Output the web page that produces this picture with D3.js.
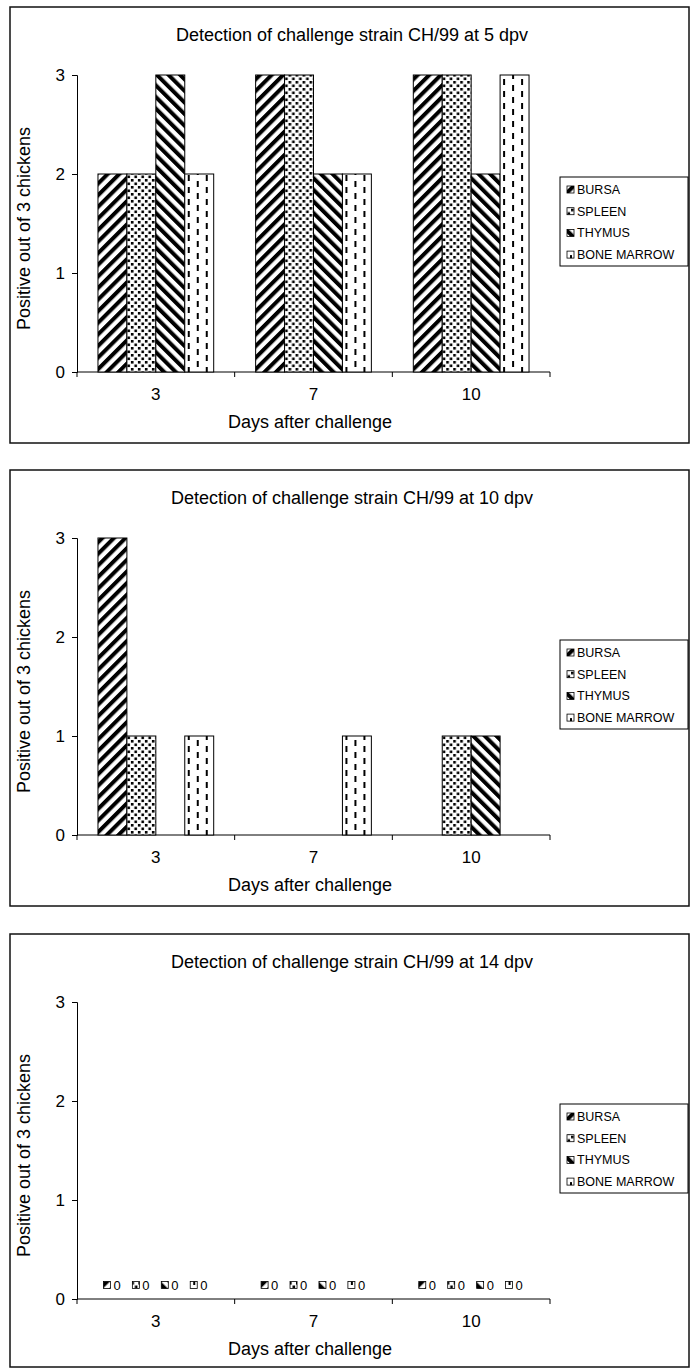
<!DOCTYPE html>
<html>
<head>
<meta charset="utf-8">
<script src="https://cdn.jsdelivr.net/npm/d3@7"></script>
<style>
  body { margin: 0; background: #fff; }
  svg { display: block; font-family: "Liberation Sans", Arial, sans-serif; }
</style>
</head>
<body>
<script>
// chart data
const days = ["3", "7", "10"];
const organs = ["BURSA", "SPLEEN", "THYMUS", "BONE MARROW"];
const titles = [
  "Detection of challenge strain CH/99 at 5 dpv",
  "Detection of challenge strain CH/99 at 10 dpv",
  "Detection of challenge strain CH/99 at 14 dpv"
];
const yTicks = [0, 1, 2, 3];

// positives per organ, one value per day
const dpv5 = {
  "BURSA": [2, 3, 3],
  "SPLEEN": [2, 3, 3],
  "THYMUS": [3, 2, 2],
  "BONE MARROW": [2, 2, 3]
};
const dpv10 = {
  "BURSA": [3, 0, 0],
  "SPLEEN": [1, 0, 1],
  "THYMUS": [0, 0, 1],
  "BONE MARROW": [1, 1, 0]
};
const dpv14 = {
  "BURSA": [0, 0, 0],
  "SPLEEN": [0, 0, 0],
  "THYMUS": [0, 0, 0],
  "BONE MARROW": [0, 0, 0]
};
const panels = [
  {title: titles[0], data: dpv5, labels: false},
  {title: titles[1], data: dpv10, labels: false},
  {title: titles[2], data: dpv14, labels: true}
];

const W = 693, H = 1368;
const panelTops = [7, 470, 934];
const panelH = 436;
const plot = {left: 77, right: 550, top: 68, bottom: 365};

const svg = d3.select("body").append("svg")
    .attr("width", W)
    .attr("height", H);

// fill patterns
const defs = svg.append("defs");

function stripes(id, angle) {
  const p = defs.append("pattern")
      .attr("id", id)
      .attr("patternUnits", "userSpaceOnUse")
      .attr("width", 8.2).attr("height", 10)
      .attr("patternTransform", "rotate(" + angle + ")");
  p.append("rect").attr("width", 8.2).attr("height", 10).attr("fill", "#fff");
  p.append("rect").attr("width", 4).attr("height", 10).attr("fill", "#000");
}
stripes("pat-bursa", 45);
stripes("pat-thymus", -45);

const dots = defs.append("pattern")
    .attr("id", "pat-spleen")
    .attr("patternUnits", "userSpaceOnUse")
    .attr("width", 7).attr("height", 7);
dots.append("rect").attr("width", 7).attr("height", 7).attr("fill", "#fff");
dots.append("rect").attr("x", 0.5).attr("y", 0.5).attr("width", 2.6).attr("height", 2.6).attr("fill", "#000");
dots.append("rect").attr("x", 4).attr("y", 4).attr("width", 2.6).attr("height", 2.6).attr("fill", "#000");

const dash = defs.append("pattern")
    .attr("id", "pat-marrow")
    .attr("patternUnits", "userSpaceOnUse")
    .attr("width", 18).attr("height", 12);
dash.append("rect").attr("width", 18).attr("height", 12).attr("fill", "#fff");
dash.append("rect").attr("x", 3).attr("y", 0).attr("width", 2).attr("height", 6).attr("fill", "#000");
dash.append("rect").attr("x", 12).attr("y", 6).attr("width", 2).attr("height", 6).attr("fill", "#000");

const fill = d3.scaleOrdinal()
    .domain(organs)
    .range(["url(#pat-bursa)", "url(#pat-spleen)", "url(#pat-thymus)", "url(#pat-marrow)"]);

const x0 = d3.scaleBand().domain(days).range([plot.left, plot.right]);
const gap = x0.bandwidth() * 0.133;
const x1 = d3.scaleBand().domain(organs).range([gap, x0.bandwidth() - gap]);

panels.forEach((panel, i) => {
  const top = panelTops[i];
  const g = svg.append("g").attr("transform", "translate(0," + top + ")");

  g.append("rect")
      .attr("x", 10).attr("y", 0)
      .attr("width", 679).attr("height", Math.min(panelH, H - 1 - top))
      .attr("fill", "none")
      .attr("stroke", "#111")
      .attr("stroke-width", 1.5);

  g.append("text")
      .attr("x", 352).attr("y", 34)
      .attr("text-anchor", "middle")
      .style("font-size", "18px")
      .text(panel.title);

  const y = d3.scaleLinear().domain([0, 3]).range([plot.bottom, plot.top]);

  // y axis
  const ya = g.append("g")
      .attr("transform", "translate(" + plot.left + ",0)")
      .call(d3.axisLeft(y).tickValues(yTicks).tickFormat(d3.format("d")).tickSize(5).tickPadding(7));
  ya.selectAll("text").style("font-size", "17px").attr("fill", "#000");
  ya.selectAll("line, path").attr("stroke", "#000");

  // x axis: ticks sit between categories
  const xa = g.append("g")
      .attr("transform", "translate(0," + plot.bottom + ")")
      .call(d3.axisBottom(x0).tickSize(0).tickPadding(16));
  xa.selectAll("text").style("font-size", "17px").attr("fill", "#000");
  xa.select(".domain").attr("d", "M" + plot.left + ",0H" + plot.right).attr("stroke", "#000");
  xa.selectAll(".sep")
      .data(days.map(d => x0(d)).concat([plot.right]))
      .enter().append("line")
      .attr("x1", d => d).attr("x2", d => d)
      .attr("y1", 0).attr("y2", 5)
      .attr("stroke", "#000");

  g.append("text")
      .attr("x", 310).attr("y", 421)
      .attr("text-anchor", "middle")
      .style("font-size", "18px")
      .text("Days after challenge");

  g.append("text")
      .attr("transform", "translate(30," + ((plot.top + plot.bottom) / 2 + 5) + ") rotate(-90)")
      .attr("text-anchor", "middle")
      .style("font-size", "18px")
      .text("Positive out of 3 chickens");

  // bars
  const rows = [];
  days.forEach((d, j) => organs.forEach(o => rows.push({day: d, organ: o, value: panel.data[o][j]})));

  const cell = g.selectAll(".cell")
      .data(rows)
      .enter().append("g")
      .attr("class", "cell")
      .attr("transform", d => "translate(" + (x0(d.day) + x1(d.organ)) + ",0)");

  cell.filter(d => d.value > 0).append("rect")
      .attr("y", d => y(d.value))
      .attr("width", x1.bandwidth())
      .attr("height", d => y(0) - y(d.value))
      .attr("fill", d => fill(d.organ))
      .attr("stroke", "#000")
      .attr("stroke-width", 1);

  if (panel.labels) {
    const lab = cell.append("g")
        .attr("transform", d => "translate(" + (x1.bandwidth() / 2) + "," + (y(d.value) - 14) + ")");
    lab.append("rect")
        .attr("x", -9).attr("y", -3.5)
        .attr("width", 7).attr("height", 7)
        .attr("fill", d => fill(d.organ))
        .attr("stroke", "#000")
        .attr("stroke-width", 0.8);
    lab.append("text")
        .attr("x", 1).attr("y", 5)
        .style("font-size", "13px")
        .text(d => d.value);
  }

  // legend
  const lg = g.append("g").attr("transform", "translate(560,170)");
  lg.append("rect")
      .attr("width", 128).attr("height", 89)
      .attr("fill", "#fff")
      .attr("stroke", "#000")
      .attr("stroke-width", 1);
  const item = lg.selectAll(".item")
      .data(organs)
      .enter().append("g")
      .attr("transform", (d, k) => "translate(7," + (13 + k * 21.7) + ")");
  item.append("rect")
      .attr("x", 0).attr("y", -4)
      .attr("width", 7).attr("height", 7)
      .attr("fill", d => fill(d))
      .attr("stroke", "#000")
      .attr("stroke-width", 0.8);
  item.append("text")
      .attr("x", 10).attr("y", 4)
      .style("font-size", "12.5px")
      .text(d => d);
});
</script>
</body>
</html>
